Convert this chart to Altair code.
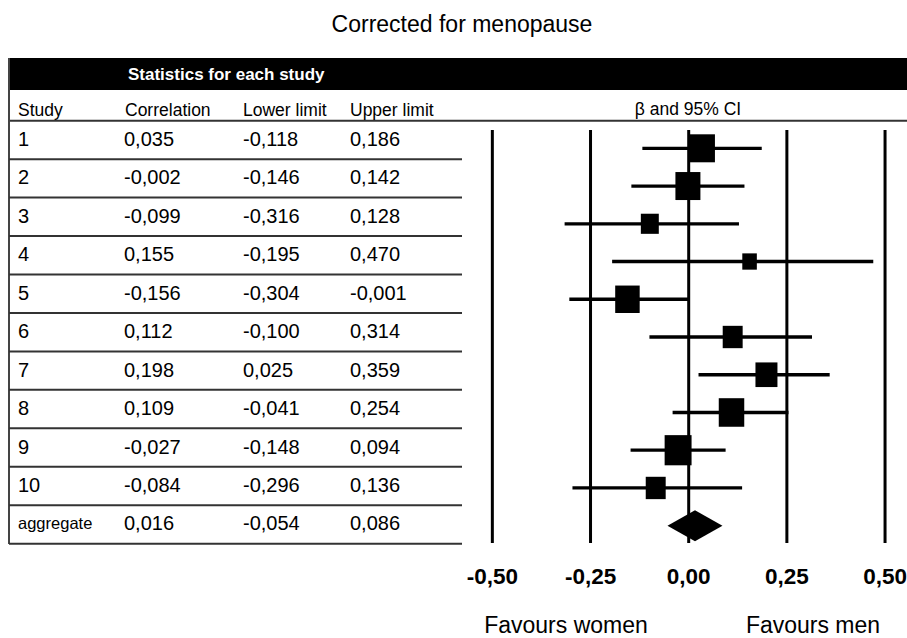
import altair as alt
import pandas as pd

# ---------------- data ----------------
studies = ["1", "2", "3", "4", "5", "6", "7", "8", "9", "10", "aggregate"]
correlation = [0.035, -0.002, -0.099, 0.155, -0.156, 0.112, 0.198, 0.109, -0.027, -0.084, 0.016]
lower_limit = [-0.118, -0.146, -0.316, -0.195, -0.304, -0.100, 0.025, -0.041, -0.148, -0.296, -0.054]
upper_limit = [0.186, 0.142, 0.128, 0.470, -0.001, 0.314, 0.359, 0.254, 0.094, 0.136, 0.086]
# relative study weights (%) (studies 1-10)
weights = [12.4, 12.4, 6.4, 4.2, 11.9, 7.9, 9.6, 12.9, 14.4, 7.9]
tick_values = [-0.50, -0.25, 0.00, 0.25, 0.50]
column_headers = ["Study", "Correlation", "Lower limit", "Upper limit"]
group_header = "Statistics for each study"
plot_header = "β and 95% CI"
title_text = "Corrected for menopause"
favours = ["Favours women", "Favours men"]


def fmt(v, nd=3):
    return f"{v:.{nd}f}".replace(".", ",")


n = len(studies)
rows = pd.DataFrame({
    "study": studies,
    "idx": list(range(1, n + 1)),
    "corr": correlation,
    "lo": lower_limit,
    "hi": upper_limit,
    "corr_s": [fmt(v) for v in correlation],
    "lo_s": [fmt(v) for v in lower_limit],
    "hi_s": [fmt(v) for v in upper_limit],
})
rows["is_agg"] = rows["study"] == "aggregate"
studies_df = rows[~rows["is_agg"]].copy()
studies_df["w"] = weights
agg = rows[rows["is_agg"]].iloc[0]

W, H = 907, 638
FONT = "Liberation Sans"

# x scale: forest plot effect axis (pixel 688.7 = 0, 392.7 px per unit)
x_scale = alt.Scale(domain=[-688.7 / 392.7, (W - 688.7) / 392.7], nice=False, zero=False)
# table row scale (row i centre at 120.7 + (i-0.5)*38.45)
t_scale = alt.Scale(domain=[0.5 - 120.7 / 38.45, 0.5 + (H - 120.7) / 38.45],
                    nice=False, zero=False, reverse=True)
# forest row scale (row i centre at 148.3 + (i-1)*37.74)
f_scale = alt.Scale(domain=[1 - 148.3 / 37.74, 1 + (H - 148.3) / 37.74],
                    nice=False, zero=False, reverse=True)

base_rows = alt.Chart(rows)
one = pd.DataFrame({"a": [0]})

# ---------- table frame ----------
black_bar = alt.Chart(one).mark_rect(color="black").encode(
    x=alt.value(9), x2=alt.value(W), y=alt.value(58), y2=alt.value(90))

header_line = alt.Chart(one).mark_rule(color="#333", strokeWidth=2).encode(
    x=alt.value(9), x2=alt.value(W), y=alt.value(120.7))

left_border = alt.Chart(one).mark_rule(color="#444", strokeWidth=2).encode(
    x=alt.value(9), y=alt.value(58), y2=alt.value(544))

row_lines = base_rows.mark_rule(color="#333", strokeWidth=2).encode(
    x=alt.value(9), x2=alt.value(462),
    y=alt.Y("bound:Q", scale=t_scale, axis=None)
).transform_calculate(bound="datum.idx + 0.5")

# ---------- header texts ----------
col_x = [18, 125, 243, 350]
hdr_layers = [
    alt.Chart(pd.DataFrame({"label": [lab]})).mark_text(
        align="left", baseline="middle", font=FONT, fontSize=17.5, color="black"
    ).encode(x=alt.value(cx), y=alt.value(111), text="label:N")
    for lab, cx in zip(column_headers, col_x)
]

group_txt = alt.Chart(pd.DataFrame({"label": [group_header]})).mark_text(
    align="left", baseline="middle", font=FONT, fontSize=17, fontWeight="bold", color="white"
).encode(x=alt.value(128), y=alt.value(75), text="label:N")

plot_hdr = alt.Chart(pd.DataFrame({"label": [plot_header]})).mark_text(
    align="center", baseline="middle", font=FONT, fontSize=17.5, color="black"
).encode(x=alt.value(688), y=alt.value(110), text="label:N")

title = alt.Chart(pd.DataFrame({"label": [title_text]})).mark_text(
    align="center", baseline="middle", font=FONT, fontSize=23, color="black"
).encode(x=alt.value(462), y=alt.value(25), text="label:N")

# ---------- table body ----------
def col_text(field, cx, shrink_agg=False):
    size = (alt.condition("datum.study == 'aggregate'", alt.value(16.5), alt.value(20))
            if shrink_agg else alt.value(20))
    return base_rows.mark_text(
        align="left", baseline="middle", font=FONT, color="black"
    ).encode(
        x=alt.value(cx),
        y=alt.Y("idx:Q", scale=t_scale, axis=None),
        text=f"{field}:N",
        size=size,
    )

body = [col_text("study", 18, True), col_text("corr_s", 124),
        col_text("lo_s", 243), col_text("hi_s", 350)]

# ---------- forest plot ----------
ticks_df = pd.DataFrame({"t": tick_values, "lab": [fmt(v, 2) for v in tick_values]})
grid = alt.Chart(ticks_df).mark_rule(color="black", strokeWidth=3).encode(
    x=alt.X("t:Q", scale=x_scale, axis=None), y=alt.value(130), y2=alt.value(543))

tick_labels = alt.Chart(ticks_df).mark_text(
    align="center", baseline="middle", font=FONT, fontWeight="bold",
    fontSize=22.5, color="black"
).encode(x=alt.X("t:Q", scale=x_scale, axis=None), y=alt.value(577), text="lab:N")

fav_layers = [
    alt.Chart(pd.DataFrame({"label": [lab]})).mark_text(
        align="center", baseline="middle", font=FONT, fontSize=23, color="black"
    ).encode(x=alt.value(cx), y=alt.value(626), text="label:N")
    for lab, cx in zip(favours, [566, 813])
]

ci = alt.Chart(studies_df).mark_rule(color="black", strokeWidth=3.3).encode(
    x=alt.X("lo:Q", scale=x_scale, axis=None), x2="hi:Q",
    y=alt.Y("idx:Q", scale=f_scale, axis=None))

square_path = "M-1,-1.12L1,-1.12L1,1.12L-1,1.12Z"
squares = alt.Chart(studies_df).mark_point(
    shape=square_path, filled=True, color="black", opacity=1, strokeWidth=0
).encode(
    x=alt.X("corr:Q", scale=x_scale, axis=None),
    y=alt.Y("idx:Q", scale=f_scale, axis=None),
    size=alt.Size("w:Q", scale=alt.Scale(domain=[0, 100], range=[0, 5040]), legend=None),
)

half_h = 15.5 / 37.74
diamond_df = pd.DataFrame({
    "x": [agg["lo"], agg["corr"], agg["hi"]],
    "top": [agg["idx"], agg["idx"] - half_h, agg["idx"]],
    "bot": [agg["idx"], agg["idx"] + half_h, agg["idx"]],
})
diamond = alt.Chart(diamond_df).mark_area(color="black", opacity=1).encode(
    x=alt.X("x:Q", scale=x_scale, axis=None),
    y=alt.Y("top:Q", scale=f_scale, axis=None), y2="bot:Q")

chart = alt.layer(
    black_bar, header_line, left_border, row_lines,
    *hdr_layers, group_txt, plot_hdr, title, *body,
    grid, tick_labels, *fav_layers, ci, squares, diamond,
).resolve_scale(y="independent").properties(
    width=W, height=H, padding=0, autosize=alt.AutoSizeParams(type="none"),
    background="white",
).configure_view(stroke=None)

chart.save("out.html", embed_options={"renderer": "svg", "actions": False})
